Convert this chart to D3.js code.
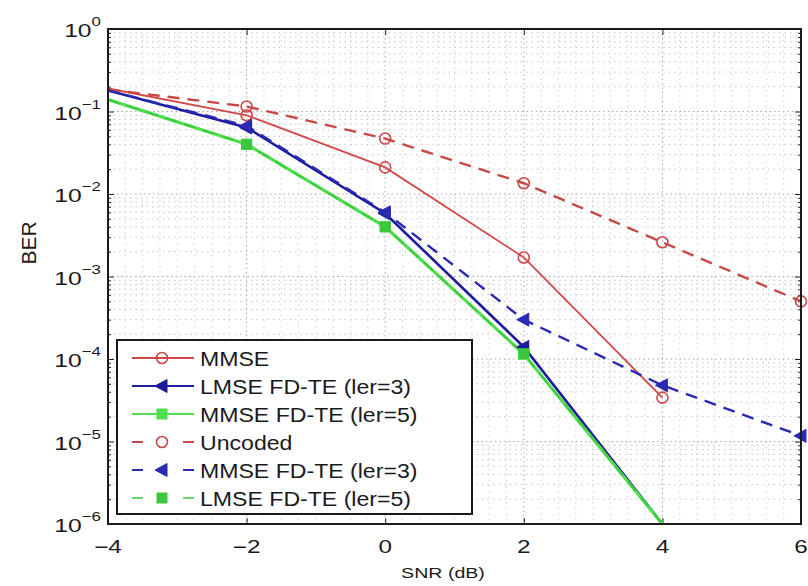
<!DOCTYPE html>
<html>
<head>
<meta charset="utf-8"/>
<title>BER vs SNR</title>
<style>
  body { margin: 0; background: #fff; }
  text { font-family: "Liberation Sans", Arial, sans-serif; fill: #1a1a1a; }
</style>
</head>
<body>
<svg id="chart"></svg>
<script src="https://cdn.jsdelivr.net/npm/d3@7"></script>
<script>
const width = 808, height = 586;
const plotL = 108, plotR = 801, plotT = 29, plotB = 524;

// data
const snr = [-4, -2, 0, 2, 4, 6];
const xTicks = [-4, -2, 0, 2, 4, 6];
const yTicks = [1, 1e-1, 1e-2, 1e-3, 1e-4, 1e-5, 1e-6];
const yExp = ["0", "\u22121", "\u22122", "\u22123", "\u22124", "\u22125", "\u22126"];

const mmse      = [0.19, 0.09, 0.021, 0.0017, 3.4e-5, null];
const lmseIer3  = [0.18, 0.064, 0.0058, 1.4e-4, 1e-6, null];
const mmseIer5  = [0.14, 0.04, 0.004, 1.15e-4, 1e-6, null];
const uncoded   = [0.185, 0.115, 0.047, 0.0135, 0.0026, 5e-4];
const mmseIer3  = [0.18, 0.067, 0.006, 3.0e-4, 4.8e-5, 1.17e-5];
const lmseIer5  = [0.14, 0.04, 0.004, 1.15e-4, 1e-6, null];
const names = ["MMSE", "LMSE FD-TE (ler=3)", "MMSE FD-TE (ler=5)", "Uncoded", "MMSE FD-TE (ler=3)", "LMSE FD-TE (ler=5)"];

const series = [
  {name: names[0], vals: mmse,     color: "#d24848", w: 1.8, dash: null,   marker: "circle"},
  {name: names[1], vals: lmseIer3, color: "#1c1c9c", w: 2.6, dash: null,   marker: "tri"},
  {name: names[2], vals: mmseIer5, color: "#4ede4e", w: 3.2, dash: null,   marker: "square"},
  {name: names[3], vals: uncoded,  color: "#c84848", w: 2.4, dash: "12,8", marker: "circle"},
  {name: names[4], vals: mmseIer3, color: "#2a2ab4", w: 2.4, dash: "12,8", marker: "tri"},
  {name: names[5], vals: lmseIer5, color: "#3cc83c", w: 1.6, dash: "12,8", marker: "square"}
];

const svg = d3.select("#chart").attr("width", width).attr("height", height);
svg.append("rect").attr("width", width).attr("height", height).attr("fill", "#fff");

const x = d3.scaleLinear().domain([-4, 6]).range([plotL, plotR]);
const y = d3.scaleLog().domain([1e-6, 1]).range([plotB, plotT]);

// grid
const grid = svg.append("g");
const xMinor = d3.range(-4, 6.001, 0.25).filter(v => Math.abs(v % 2) > 1e-6);
const yMinor = [];
for (let k = -6; k < 0; k++) for (let m = 2; m <= 9; m++) yMinor.push(m * Math.pow(10, k));

grid.selectAll(".xminor").data(xMinor).enter().append("line")
  .attr("x1", d => x(d)).attr("x2", d => x(d)).attr("y1", plotT).attr("y2", plotB)
  .attr("stroke", "#d2d2d2").attr("stroke-dasharray", "1.5,4");
grid.selectAll(".yminor").data(yMinor).enter().append("line")
  .attr("x1", plotL).attr("x2", plotR).attr("y1", d => y(d)).attr("y2", d => y(d))
  .attr("stroke", "#c4c4c4").attr("stroke-dasharray", "1.5,4");
grid.selectAll(".xmajor").data(xTicks.slice(1, -1)).enter().append("line")
  .attr("x1", d => x(d)).attr("x2", d => x(d)).attr("y1", plotT).attr("y2", plotB)
  .attr("stroke", "#a8a8a8").attr("stroke-dasharray", "1.5,3");
grid.selectAll(".ymajor").data(yTicks.slice(1, -1)).enter().append("line")
  .attr("x1", plotL).attr("x2", plotR).attr("y1", d => y(d)).attr("y2", d => y(d))
  .attr("stroke", "#a8a8a8").attr("stroke-dasharray", "1.5,3");

// ticks (inward)
function tickAxis(axis, tx, ty, vals, size) {
  svg.append("g").attr("transform", `translate(${tx},${ty})`)
    .call(axis.tickValues(vals).tickSize(-size).tickFormat(""))
    .call(g => g.select(".domain").remove())
    .selectAll("line").attr("stroke", "#222");
}
tickAxis(d3.axisLeft(y), plotL, 0, yTicks, 6);
tickAxis(d3.axisLeft(y), plotL, 0, yMinor, 3);
tickAxis(d3.axisRight(y), plotR, 0, yTicks, 6);
tickAxis(d3.axisRight(y), plotR, 0, yMinor, 3);
tickAxis(d3.axisBottom(x), 0, plotB, xTicks, 6);
tickAxis(d3.axisTop(x), 0, plotT, xTicks, 6);

// lines
svg.append("clipPath").attr("id", "clip").append("rect")
  .attr("x", plotL).attr("y", plotT).attr("width", plotR - plotL).attr("height", plotB - plotT);
const plot = svg.append("g").attr("clip-path", "url(#clip)");

const line = d3.line()
  .defined(d => d.v != null)
  .x(d => x(d.s)).y(d => y(d.v));

function drawMarker(g, type, cx, cy, color) {
  if (type === "circle") {
    g.append("circle").attr("cx", cx).attr("cy", cy).attr("r", 5.5)
      .attr("fill", "none").attr("stroke", color).attr("stroke-width", 1.6);
  } else if (type === "tri") {
    g.append("path").attr("d", `M${cx - 7},${cy} L${cx + 5},${cy - 6.5} L${cx + 5},${cy + 6.5} Z`)
      .attr("fill", color).attr("stroke", color).attr("stroke-width", 1);
  } else {
    g.append("rect").attr("x", cx - 5).attr("y", cy - 5).attr("width", 10).attr("height", 10)
      .attr("fill", color).attr("stroke", color);
  }
}

series.forEach(s => {
  const pts = snr.map((v, i) => ({s: v, v: s.vals[i]}));
  plot.append("path").datum(pts)
    .attr("d", line).attr("fill", "none")
    .attr("stroke", s.color).attr("stroke-width", s.w)
    .attr("stroke-dasharray", s.dash);
  pts.filter(p => p.v != null && p.s > -4 && p.v > 1e-6)
    .forEach(p => drawMarker(svg, s.marker, x(p.s), y(p.v), s.color));
});

// frame
svg.append("rect").attr("x", plotL).attr("y", plotT)
  .attr("width", plotR - plotL).attr("height", plotB - plotT)
  .attr("fill", "none").attr("stroke", "#1a1a1a").attr("stroke-width", 2);

// tick labels (the source figure is stretched sideways)
function stretched(xp, yp, sx, size, anchor) {
  return svg.append("text")
    .attr("transform", `translate(${xp},${yp}) scale(${sx},1)`)
    .attr("text-anchor", anchor)
    .style("font-size", size + "px");
}
yTicks.forEach((v, i) => {
  const t = stretched(101, y(v) + 8, 1.3, 19, "end");
  t.append("tspan").text("10");
  t.append("tspan").attr("dy", -11).style("font-size", "13px").text(yExp[i]);
});
xTicks.forEach(v => {
  stretched(x(v), 553, 1.35, 18, "middle").text(v < 0 ? "\u2212" + Math.abs(v) : v);
});
stretched(443, 578, 1.4, 14, "middle").text("SNR (dB)");

svg.append("text")
  .attr("transform", "translate(36,243) rotate(-90)")
  .attr("text-anchor", "middle")
  .style("font-size", "21px")
  .text("BER");

// legend
const lg = svg.append("g");
lg.append("rect").attr("x", 117).attr("y", 340).attr("width", 355).attr("height", 174)
  .attr("fill", "#fff").attr("stroke", "#1a1a1a").attr("stroke-width", 2);
series.forEach((s, i) => {
  const cy = 358 + i * 28;
  lg.append("line").attr("x1", 132).attr("x2", 194).attr("y1", cy).attr("y2", cy)
    .attr("stroke", s.color).attr("stroke-width", Math.min(s.w, 2.2))
    .attr("stroke-dasharray", s.dash ? "11,40" : null);
  drawMarker(lg, s.marker, 162, cy, s.color);
  lg.append("text")
    .attr("transform", `translate(200,${cy + 8}) scale(1.1,1)`)
    .style("font-size", "21px")
    .text(s.name);
});
</script>
</body>
</html>
